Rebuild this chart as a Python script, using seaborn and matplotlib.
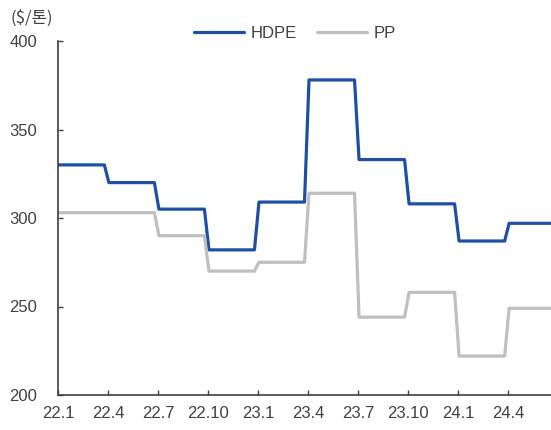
import matplotlib
matplotlib.use("Agg")
import matplotlib.pyplot as plt
import seaborn as sns
import pandas as pd

# Quarterly contract prices ($/ton)
quarters = ["22.1", "22.4", "22.7", "22.10", "23.1", "23.4",
            "23.7", "23.10", "24.1", "24.4", "24.7"]
hdpe = [330, 320, 305, 282, 309, 378, 333, 308, 287, 297, 297]
pp = [303, 303, 290, 270, 275, 314, 244, 258, 222, 249, 249]
tick_labels = ["22.1", "22.4", "22.7", "22.10", "23.1", "23.4",
               "23.7", "23.10", "24.1", "24.4"]

# each price holds for its quarter; the change happens over about a week
RAMP_BEFORE = 0.22   # months before quarter boundary
RAMP_AFTER = 0.05    # months after quarter boundary

rows = []
for name, values in (("HDPE", hdpe), ("PP", pp)):
    for q, v in enumerate(values):
        start = 3 * q + (RAMP_AFTER if q > 0 else 0.0)
        end = 3 * q + 3 - (RAMP_BEFORE if q < len(values) - 1 else 0.0)
        rows.append({"month": start, "price": v, "product": name})
        rows.append({"month": end, "price": v, "product": name})
df = pd.DataFrame(rows)

sns.set_theme(style="white")
plt.rcParams["font.family"] = ["Liberation Sans", "Noto Sans CJK KR"]
text_color = "#404040"
FS = 12

fig = plt.figure(figsize=(5.51, 4.30), dpi=100)
ax = fig.add_axes([58 / 551, 35 / 430, 1 - 58 / 551, 354 / 430])

palette = {"HDPE": "#1f4fa2", "PP": "#bfbfbf"}
sns.lineplot(data=df, x="month", y="price", hue="product", palette=palette,
             sort=False, estimator=None, linewidth=2.3, ax=ax, legend=False)

ax.set_xlim(0, (551 - 58) / ((508.3 - 58) / 27))
ax.set_ylim(200, 400)
ax.set_xticks([3 * i for i in range(len(tick_labels))])
ax.set_xticklabels(tick_labels)
ax.set_yticks([200, 250, 300, 350, 400])
ax.set_xlabel("")
ax.set_ylabel("")

for side in ("top", "right"):
    ax.spines[side].set_visible(False)
for side in ("left", "bottom"):
    ax.spines[side].set_color(text_color)
    ax.spines[side].set_linewidth(1.2)

ax.tick_params(axis="both", direction="in", length=3.5, width=1.0,
               color=text_color, labelcolor=text_color, labelsize=FS)
ax.tick_params(axis="y", pad=15, left=True)
ax.tick_params(axis="x", pad=8, bottom=True)

fig.text(11 / 551, 1 - 18 / 430, "($/톤)", fontsize=FS, color=text_color,
         ha="left", va="center",
         family=["Noto Sans CJK KR", "Liberation Sans"])

handles = [plt.Line2D([], [], color=palette[k], linewidth=2.3) for k in ("HDPE", "PP")]
fig.legend(handles, ["HDPE", "PP"], loc="center",
           bbox_to_anchor=(295 / 551, 1 - 33 / 430), ncol=2, frameon=False,
           fontsize=FS, handlelength=3.0, handletextpad=0.4,
           columnspacing=1.2, labelcolor=text_color)

fig.savefig("out.png", dpi=100)
